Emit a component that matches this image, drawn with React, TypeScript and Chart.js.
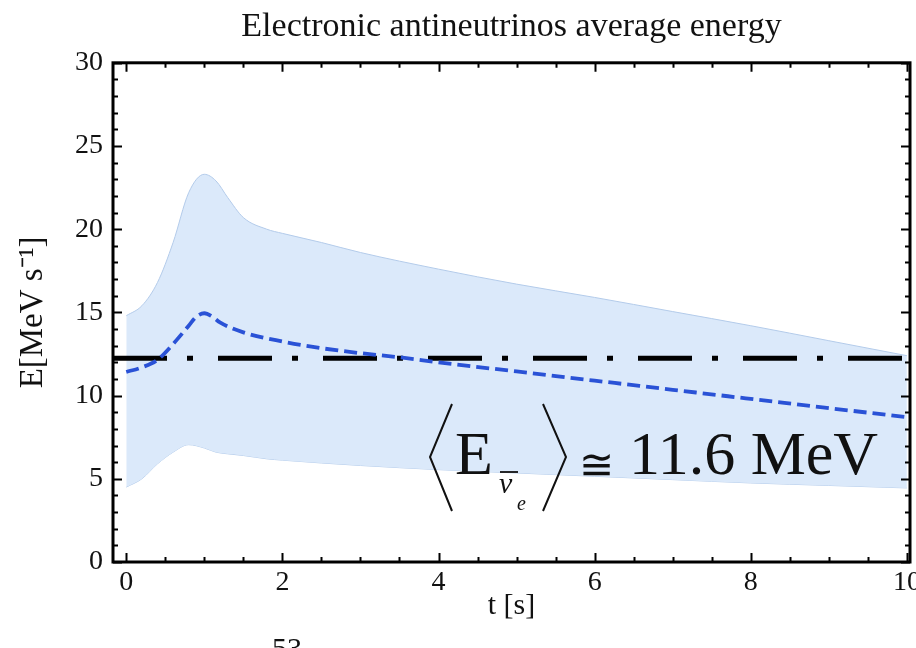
import React, { useEffect, useRef } from "react";
import { Chart, registerables } from "chart.js";

Chart.register(...registerables);

// ---- data ----
const bandTimes = [0, 0.2, 0.4, 0.6, 0.8, 1.0, 1.15, 1.3, 1.5, 1.8, 2, 2.5, 3, 4, 5, 6, 7, 8, 9, 10];
const bandUpper = [14.8, 15.4, 16.8, 19.2, 22.2, 23.3, 22.9, 21.9, 20.7, 20.0, 19.75, 19.2, 18.6, 17.6, 16.7, 15.9, 15.05, 14.2, 13.3, 12.4];
const bandLower = [4.5, 5.0, 5.9, 6.6, 7.05, 6.85, 6.6, 6.5, 6.4, 6.2, 6.12, 5.95, 5.8, 5.55, 5.35, 5.15, 4.95, 4.75, 4.6, 4.45];

const meanTimes = [0, 0.2, 0.4, 0.6, 0.8, 0.9, 1.0, 1.1, 1.2, 1.5, 2, 2.5, 3, 3.5, 4, 5, 6, 7, 8, 9, 10];
const meanEnergy = [11.42, 11.7, 12.15, 13.1, 14.2, 14.75, 14.95, 14.75, 14.4, 13.8, 13.25, 12.85, 12.55, 12.3, 12.0, 11.45, 10.9, 10.35, 9.8, 9.25, 8.7];

const refLevel = 12.25;

const xMin = -0.17;
const xMax = 10.04;
const xTickValues = [0, 2, 4, 6, 8, 10];
const xMinorStep = 0.5;
const yMin = 0;
const yMax = 30;
const yTickValues = [0, 5, 10, 15, 20, 25, 30];
const yMinorStep = 1;

const titleText = "Electronic antineutrinos average energy";
const xTitle = "t [s]";
const yTitle = "E[MeV s\u207B\u00B9]";

const SERIF = "'Liberation Serif', 'Times New Roman', serif";

const framePlugin = {
  id: "framePlugin",
  afterDraw(chart: any) {
    const { ctx, chartArea, scales } = chart;
    const { left, right, top, bottom } = chartArea;
    const xs = scales.x;
    const ys = scales.y;
    ctx.save();
    ctx.strokeStyle = "#000";
    ctx.lineWidth = 2;
    // ticks on all four sides (inside)
    for (let v = 0; v <= yMax + 1e-9; v += yMinorStep) {
      const major = yTickValues.indexOf(v) >= 0;
      const len = major ? 9 : 5;
      const py = Math.round(ys.getPixelForValue(v)) + 0.5;
      ctx.beginPath();
      ctx.moveTo(left, py);
      ctx.lineTo(left + len, py);
      ctx.moveTo(right, py);
      ctx.lineTo(right - len, py);
      ctx.stroke();
    }
    for (let v = 0; v <= 10 + 1e-9; v += xMinorStep) {
      const major = xTickValues.indexOf(v) >= 0;
      const len = major ? 9 : 5;
      const px = Math.round(xs.getPixelForValue(v)) + 0.5;
      ctx.beginPath();
      ctx.moveTo(px, bottom);
      ctx.lineTo(px, bottom - len);
      ctx.moveTo(px, top);
      ctx.lineTo(px, top + len);
      ctx.stroke();
    }
    // frame
    ctx.lineWidth = 3;
    ctx.strokeRect(left, top, right - left, bottom - top);

    // annotation  <E_{nu-bar e}> ≅ 11.6 MeV
    ctx.fillStyle = "#111";
    ctx.strokeStyle = "#111";
    ctx.lineWidth = 2;
    ctx.textBaseline = "alphabetic";
    ctx.textAlign = "left";
    // left angle bracket
    ctx.beginPath();
    ctx.moveTo(452, 404);
    ctx.lineTo(430, 457);
    ctx.lineTo(452, 511);
    ctx.stroke();
    // right angle bracket
    ctx.beginPath();
    ctx.moveTo(543, 404);
    ctx.lineTo(566, 457);
    ctx.lineTo(543, 511);
    ctx.stroke();
    ctx.font = "62px " + SERIF;
    ctx.fillText("E", 455, 474);
    ctx.font = "italic 30px " + SERIF;
    ctx.fillText("\u03BD", 499, 493);
    ctx.lineWidth = 1.8;
    ctx.beginPath();
    ctx.moveTo(500, 472);
    ctx.lineTo(518, 472);
    ctx.stroke();
    ctx.font = "italic 20px " + SERIF;
    ctx.fillText("e", 517, 510);
    ctx.font = "42px 'DejaVu Serif', serif";
    ctx.fillText("\u2245", 579, 479);
    ctx.font = "62px " + SERIF;
    ctx.fillText("11.6 MeV", 629, 474);

    // cut-off text at the bottom
    ctx.font = "30px " + SERIF;
    ctx.fillText("53", 272, 658);
    ctx.restore();
  },
};

export default function App() {
  const canvasRef = useRef<HTMLCanvasElement | null>(null);

  useEffect(() => {
    const canvas = canvasRef.current;
    if (!canvas) return;
    const chart = new Chart(canvas, {
      type: "line",
      data: {
        datasets: [
          {
            label: "lower",
            data: bandTimes.map((t, i) => ({ x: t, y: bandLower[i] })),
            borderColor: "#b3cbea",
            borderWidth: 1,
            pointRadius: 0,
            cubicInterpolationMode: "monotone",
            fill: false,
            order: 3,
          },
          {
            label: "upper",
            data: bandTimes.map((t, i) => ({ x: t, y: bandUpper[i] })),
            borderColor: "#b3cbea",
            borderWidth: 1,
            backgroundColor: "rgb(219,233,250)",
            pointRadius: 0,
            cubicInterpolationMode: "monotone",
            fill: "-1",
            order: 2,
          },
          {
            label: "average",
            data: [
              { x: xMin, y: refLevel },
              { x: xMax, y: refLevel },
            ],
            borderColor: "#000",
            borderWidth: 5,
            borderDash: [54, 20, 6, 25],
            pointRadius: 0,
            fill: false,
            order: 1,
          },
          {
            label: "mean",
            data: meanTimes.map((t, i) => ({ x: t, y: meanEnergy[i] })),
            borderColor: "#2a52d6",
            borderWidth: 3.8,
            borderDash: [13, 6],
            pointRadius: 0,
            cubicInterpolationMode: "monotone",
            fill: false,
            order: 0,
          },
        ],
      },
      options: {
        responsive: false,
        animation: false,
        devicePixelRatio: 1,
        layout: { padding: { top: 0, right: 6, bottom: 0, left: 0 } },
        plugins: {
          legend: { display: false },
          tooltip: { enabled: false },
          title: {
            display: true,
            text: titleText,
            fullSize: false,
            color: "#111",
            font: { family: SERIF, size: 34, weight: "normal" },
            padding: { top: 7, bottom: 15 },
          },
        },
        scales: {
          x: {
            type: "linear",
            min: xMin,
            max: xMax,
            grid: { display: false, drawTicks: false },
            border: { display: false },
            afterBuildTicks: (s: any) => {
              s.ticks = xTickValues.map((v) => ({ value: v }));
            },
            afterFit: (s: any) => {
              s.height = 86;
              s.paddingLeft = 0;
              s.paddingRight = 0;
            },
            ticks: {
              color: "#111",
              font: { family: SERIF, size: 28 },
              padding: 4,
              maxRotation: 0,
              autoSkip: false,
            },
            title: {
              display: true,
              text: xTitle,
              color: "#111",
              font: { family: SERIF, size: 30 },
              padding: { top: 0, bottom: 24 },
            },
          },
          y: {
            type: "linear",
            min: yMin,
            max: yMax,
            grid: { display: false, drawTicks: false },
            border: { display: false },
            afterBuildTicks: (s: any) => {
              s.ticks = yTickValues.map((v) => ({ value: v }));
            },
            afterFit: (s: any) => {
              s.width = 113;
              s.paddingTop = 0;
              s.paddingBottom = 0;
            },
            ticks: {
              color: "#111",
              font: { family: SERIF, size: 28 },
              padding: 10,
              autoSkip: false,
            },
            title: {
              display: true,
              text: yTitle,
              color: "#111",
              font: { family: SERIF, size: 33 },
              padding: { top: 14, bottom: 0 },
            },
          },
        },
      },
      plugins: [framePlugin],
    } as any);
    return () => chart.destroy();
  }, []);

  return (
    <div
      style={{
        position: "fixed",
        left: 0,
        top: 0,
        width: 916,
        height: 648,
        background: "#fff",
      }}
    >
      <canvas ref={canvasRef} width={916} height={648} style={{ display: "block" }} />
    </div>
  );
}
